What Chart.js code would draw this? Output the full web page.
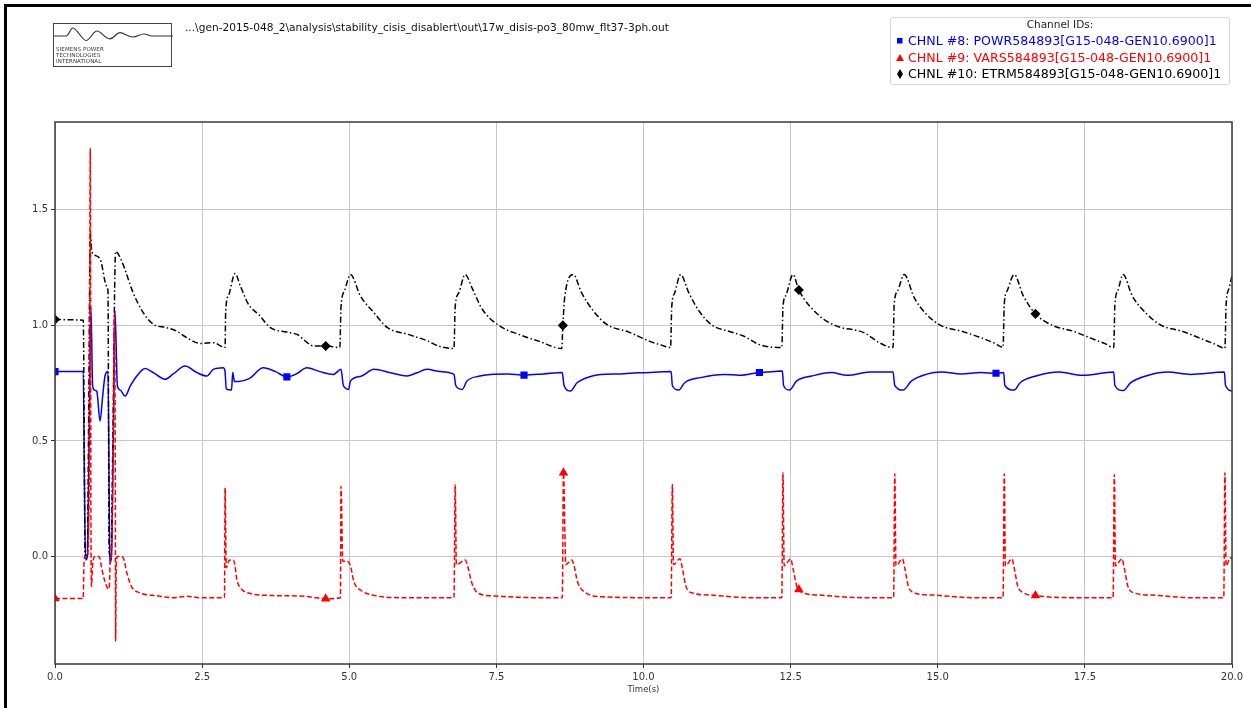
<!DOCTYPE html>
<html lang="en">
<head>
<meta charset="UTF-8">
<title>GEN-2015-048 stability run - channel plot</title>
<script src="https://cdn.jsdelivr.net/npm/chart.js"></script>
<style>
    html, body {
        margin: 0;
        padding: 0;
        background: #fff;
        overflow: hidden;
    }
    body {
        position: relative;
        width: 1251px;
        height: 708px;
        font-family: 'DejaVu Sans', sans-serif;
    }
    #frame {
        position: absolute;
        left: 4px;
        top: 4px;
        width: 1400px;
        height: 800px;
        border-left: 3px solid #000;
        border-top: 3px solid #000;
    }
    #chart {
        position: absolute;
        left: 0;
        top: 0;
    }
    #logo {
        position: absolute;
        left: 53px;
        top: 23px;
        width: 119px;
        height: 44px;
        border: 1.5px solid #444;
        box-sizing: border-box;
    }
    #logo svg {
        position: absolute;
        left: 0;
        top: 0;
    }
    #logo .name {
        position: absolute;
        left: 2px;
        top: 22px;
        font-size: 5.5px;
        line-height: 6px;
        color: #333;
        letter-spacing: 0.1px;
    }
    #runfile {
        position: absolute;
        left: 185px;
        top: 21px;
        font-size: 10.6px;
        color: #111;
        white-space: nowrap;
    }
    #channels {
        position: absolute;
        left: 890px;
        top: 17px;
        width: 338px;
        height: 66px;
        border: 1px solid #d4d4d4;
        border-radius: 3px;
        background: #fff;
    }
    #channels .title {
        position: absolute;
        left: 0;
        top: 0;
        width: 100%;
        text-align: center;
        font-size: 10.5px;
        line-height: 12px;
        color: #222;
    }
    #channels .row {
        position: absolute;
        left: 17px;
        font-size: 12.6px;
        line-height: 17px;
        white-space: nowrap;
    }
    #channels svg {
        position: absolute;
        left: 4px;
    }
</style>
</head>
<body>
    <div id="frame"></div>
    <canvas id="chart" width="1251" height="708"></canvas>

    <div id="logo">
        <svg width="119" height="44" viewBox="0 0 119 44">
            <path d="M0 12 L12 12 C15 12 16 4 19 4 C23 4 28 16.5 32 16.5 C36 16.5 39 7 43 7 C47 7 51 14.8 56 14.8 C60 14.8 62 8.7 66 8.7 C70 8.7 74 13 79 13 C83 13 86 10 90 10 C93 10 95 12 98 12 L119 12"
                  fill="none" stroke="#333" stroke-width="1.2"/>
        </svg>
        <div class="name">SIEMENS POWER<br>TECHNOLOGIES<br>INTERNATIONAL</div>
    </div>

    <div id="runfile">...\gen-2015-048_2\analysis\stability_cisis_disablert\out\17w_disis-po3_80mw_flt37-3ph.out</div>

    <div id="channels">
        <div class="title">Channel IDs:</div>
        <svg width="10" height="10" style="top:18px"><rect x="2" y="2" width="5.5" height="5.5" fill="#0000ff"/></svg>
        <div class="row" style="top:14px; color:#0000ff">CHNL #8: POWR584893[G15-048-GEN10.6900]1</div>
        <svg width="10" height="10" style="top:35px"><polygon points="5,1 9,8 1,8" fill="#ff0000"/></svg>
        <div class="row" style="top:31px; color:#ff0000">CHNL #9: VARS584893[G15-048-GEN10.6900]1</div>
        <svg width="10" height="12" style="top:50px"><polygon points="5,1 8,6 5,11 2,6" fill="#000"/></svg>
        <div class="row" style="top:47px; color:#000">CHNL #10: ETRM584893[G15-048-GEN10.6900]1</div>
    </div>

<script>
    // axis ticks
    const xTicks = [0, 2.5, 5, 7.5, 10, 12.5, 15, 17.5, 20];
    const yTicks = [0, 0.5, 1.0, 1.5];

    // CHNL #8 POWR (pu), [time s, value]
    const powrSeries = [
        [0, 0.80], [0.48, 0.80], [0.50, 0.30], [0.52, -0.015], [0.55, 0.0], [0.58, 0.50], [0.61, 1.083],
        [0.64, 0.738], [0.67, 0.72], [0.71, 0.715], [0.765, 0.586], [0.81, 0.694], [0.85, 0.781], [0.90, 0.80],
        [0.92, 0.30], [0.93, -0.03], [0.96, 0.0], [0.99, 0.50], [1.02, 1.062], [1.06, 0.738], [1.11, 0.72],
        [1.19, 0.694], [1.28, 0.738], [1.39, 0.781], [1.53, 0.813], [1.67, 0.796], [1.87, 0.767], [2.01, 0.79],
        [2.21, 0.824], [2.41, 0.796], [2.58, 0.781], [2.69, 0.81], [2.86, 0.817], [2.89, 0.80], [2.91, 0.725],
        [3.0, 0.72], [3.02, 0.796], [3.05, 0.757], [3.3, 0.77], [3.54, 0.817], [3.75, 0.80], [3.94, 0.777],
        [4.1, 0.79], [4.28, 0.817], [4.5, 0.80], [4.73, 0.788], [4.86, 0.81], [4.90, 0.74], [4.99, 0.723],
        [5.02, 0.759], [5.2, 0.78], [5.42, 0.81], [5.7, 0.795], [5.98, 0.781], [6.15, 0.795], [6.32, 0.81],
        [6.55, 0.80], [6.78, 0.788], [6.81, 0.74], [6.92, 0.723], [7.0, 0.759], [7.2, 0.78], [7.4, 0.788],
        [7.7, 0.79], [7.97, 0.785], [8.3, 0.79], [8.62, 0.796], [8.65, 0.74], [8.76, 0.716], [8.87, 0.752],
        [9.0, 0.77], [9.27, 0.788], [9.6, 0.79], [9.9, 0.795], [10.12, 0.796], [10.47, 0.80], [10.49, 0.74],
        [10.6, 0.72], [10.7, 0.752], [10.97, 0.774], [11.37, 0.788], [11.63, 0.784], [11.97, 0.796],
        [12.22, 0.80], [12.36, 0.803], [12.38, 0.74], [12.48, 0.72], [12.6, 0.759], [12.86, 0.781],
        [13.19, 0.796], [13.46, 0.784], [13.85, 0.798], [14.24, 0.798], [14.27, 0.74], [14.41, 0.72],
        [14.55, 0.759], [14.8, 0.788], [15.07, 0.798], [15.4, 0.79], [15.73, 0.796], [15.99, 0.793],
        [16.12, 0.796], [16.14, 0.74], [16.3, 0.72], [16.4, 0.752], [16.67, 0.781], [17.06, 0.798],
        [17.46, 0.784], [17.99, 0.798], [18.01, 0.74], [18.15, 0.718], [18.28, 0.752], [18.58, 0.784],
        [18.91, 0.798], [19.3, 0.788], [19.87, 0.798], [19.89, 0.74], [20.0, 0.716]
    ];

    // CHNL #9 VARS (pu)
    const varsSeries = [
        [0, -0.182], [0.48, -0.182], [0.49, -0.05], [0.51, 0.0], [0.55, 0.0], [0.58, 0.30], [0.60, 1.765],
        [0.61, 0.20], [0.62, -0.13], [0.64, -0.035], [0.68, 0.0], [0.75, 0.0], [0.80, -0.06], [0.84, -0.10],
        [0.89, -0.135], [0.92, -0.14], [0.94, -0.02], [0.96, 0.02], [0.99, 0.50], [1.01, 1.05], [1.025, 0.30],
        [1.03, -0.365], [1.04, -0.05], [1.06, 0.0], [1.11, 0.0], [1.16, -0.005], [1.22, -0.07], [1.30, -0.13],
        [1.44, -0.157], [1.73, -0.17], [2.01, -0.178], [2.24, -0.172], [2.47, -0.178], [2.88, -0.178],
        [2.89, 0.297], [2.91, -0.049], [2.96, -0.016], [3.03, -0.015], [3.06, -0.042], [3.09, -0.10],
        [3.15, -0.135], [3.32, -0.16], [3.6, -0.168], [4.17, -0.171], [4.34, -0.175], [4.60, -0.183],
        [4.85, -0.178], [4.86, 0.304], [4.89, -0.02], [4.97, -0.02], [5.02, -0.04], [5.08, -0.11],
        [5.19, -0.145], [5.42, -0.168], [5.87, -0.178], [6.78, -0.178], [6.80, 0.311], [6.82, -0.035],
        [6.97, -0.015], [7.01, -0.04], [7.09, -0.12], [7.2, -0.16], [7.49, -0.171], [8.17, -0.178],
        [8.62, -0.178], [8.64, 0.362], [8.68, -0.035], [8.78, -0.015], [8.82, -0.04], [8.88, -0.11],
        [9.02, -0.157], [9.3, -0.174], [10.12, -0.178], [10.47, -0.178], [10.49, 0.311], [10.51, -0.035],
        [10.62, -0.01], [10.66, -0.05], [10.72, -0.128], [10.82, -0.157], [11.15, -0.167], [11.8, -0.178],
        [12.35, -0.178], [12.37, 0.362], [12.39, -0.04], [12.5, -0.01], [12.54, -0.05], [12.6, -0.125],
        [12.64, -0.143], [12.7, -0.157], [13.0, -0.167], [13.7, -0.178], [14.25, -0.178], [14.27, 0.358],
        [14.29, -0.04], [14.4, -0.01], [14.44, -0.05], [14.5, -0.128], [14.6, -0.157], [14.93, -0.167],
        [15.6, -0.178], [16.11, -0.178], [16.13, 0.358], [16.15, -0.04], [16.26, -0.01], [16.3, -0.05],
        [16.36, -0.128], [16.46, -0.157], [16.66, -0.169], [17.4, -0.178], [17.98, -0.178], [18.0, 0.355],
        [18.02, -0.04], [18.13, -0.01], [18.17, -0.05], [18.23, -0.128], [18.33, -0.157], [18.66, -0.167],
        [19.3, -0.178], [19.86, -0.178], [19.88, 0.362], [19.90, -0.04], [19.97, -0.005], [20.0, -0.01]
    ];

    // CHNL #10 ETRM (pu)
    const etrmSeries = [
        [0, 1.025], [0.48, 1.022], [0.50, 0.40], [0.51, 0.0], [0.55, 0.01], [0.57, 0.55], [0.60, 1.40],
        [0.62, 1.33], [0.65, 1.31], [0.77, 1.285], [0.88, 1.17], [0.90, 1.15], [0.92, 0.02], [0.95, 0.0],
        [0.98, 0.45], [1.03, 1.32], [1.13, 1.28], [1.33, 1.14], [1.50, 1.055], [1.67, 1.005], [1.90, 0.99],
        [2.07, 0.975], [2.24, 0.947], [2.47, 0.922], [2.69, 0.925], [2.86, 0.906], [2.89, 0.905],
        [2.90, 1.06], [2.95, 1.13], [3.06, 1.225], [3.15, 1.17], [3.29, 1.09], [3.46, 1.047], [3.66, 0.99],
        [3.94, 0.971], [4.11, 0.961], [4.40, 0.911], [4.60, 0.911], [4.84, 0.904], [4.86, 1.08], [4.92, 1.15],
        [5.02, 1.22], [5.19, 1.127], [5.42, 1.055], [5.65, 0.99], [6.00, 0.961], [6.34, 0.932], [6.51, 0.911],
        [6.78, 0.90], [6.80, 1.08], [6.86, 1.14], [6.97, 1.22], [7.09, 1.16], [7.26, 1.07], [7.54, 1.0],
        [7.88, 0.961], [8.22, 0.932], [8.61, 0.90], [8.63, 1.00], [8.66, 1.12], [8.81, 1.22], [8.94, 1.145],
        [9.14, 1.065], [9.37, 1.005], [9.76, 0.97], [10.10, 0.932], [10.30, 0.915], [10.46, 0.904],
        [10.48, 1.08], [10.53, 1.14], [10.63, 1.22], [10.77, 1.141], [10.95, 1.06], [11.17, 1.0],
        [11.43, 0.976], [11.70, 0.954], [11.96, 0.918], [12.35, 0.904], [12.37, 1.08], [12.42, 1.13],
        [12.54, 1.22], [12.64, 1.153], [12.96, 1.048], [13.25, 1.0], [13.75, 0.968], [14.01, 0.925],
        [14.24, 0.904], [14.26, 1.09], [14.32, 1.15], [14.43, 1.22], [14.60, 1.12], [14.80, 1.05],
        [15.05, 1.0], [15.40, 0.975], [15.70, 0.95], [15.95, 0.925], [16.11, 0.905], [16.13, 1.09],
        [16.18, 1.15], [16.30, 1.22], [16.45, 1.13], [16.66, 1.05], [16.95, 1.0], [17.30, 0.975],
        [17.60, 0.945], [17.85, 0.92], [17.99, 0.904], [18.01, 1.09], [18.06, 1.15], [18.15, 1.22],
        [18.30, 1.13], [18.55, 1.05], [18.80, 1.0], [19.15, 0.975], [19.45, 0.945], [19.70, 0.92],
        [19.88, 0.902], [19.90, 1.09], [19.95, 1.16], [20.0, 1.215]
    ];

    // times that carry a channel marker
    const powrMarkers = [0, 3.94, 7.97, 11.97, 15.99];
    const varsMarkers = [0, 4.60, 8.64, 12.64, 16.66];
    const etrmMarkers = [0, 4.60, 8.63, 12.64, 16.66];

    function toPoints(series) {
        return series.map(p => ({ x: p[0], y: p[1] }));
    }

    function markerRadius(times, r) {
        return ctx => (ctx.raw && times.includes(ctx.raw.x)) ? r : 0;
    }

    // plot frame, drawn over the traces like the axes spines
    const plotFrame = {
        id: 'plotFrame',
        afterDraw(chart) {
            const { ctx, chartArea: a } = chart;
            ctx.save();
            ctx.lineWidth = 1.5;
            ctx.strokeStyle = '#3a3a3a';
            ctx.strokeRect(a.left, a.top, a.right - a.left, a.bottom - a.top);
            ctx.restore();
        }
    };

    const tickFont = { family: 'DejaVu Sans', size: 10 };

    new Chart(document.getElementById('chart').getContext('2d'), {
        type: 'line',
        data: {
            datasets: [
                {
                    label: 'CHNL #9: VARS584893[G15-048-GEN10.6900]1',
                    data: toPoints(varsSeries),
                    borderColor: '#ff0000',
                    backgroundColor: '#ff0000',
                    borderWidth: 1.5,
                    borderDash: [5, 2.5],
                    pointStyle: 'triangle',
                    pointRadius: markerRadius(varsMarkers, 4),
                    order: 0
                },
                {
                    label: 'CHNL #10: ETRM584893[G15-048-GEN10.6900]1',
                    data: toPoints(etrmSeries),
                    borderColor: '#000000',
                    backgroundColor: '#000000',
                    borderWidth: 1.5,
                    borderDash: [6, 2.5, 1.5, 2.5],
                    pointStyle: 'rectRot',
                    pointRadius: markerRadius(etrmMarkers, 4),
                    order: 1
                },
                {
                    label: 'CHNL #8: POWR584893[G15-048-GEN10.6900]1',
                    data: toPoints(powrSeries),
                    borderColor: '#0000ff',
                    backgroundColor: '#0000ff',
                    borderWidth: 1.5,
                    pointStyle: 'rect',
                    pointRadius: markerRadius(powrMarkers, 4),
                    order: 2
                }
            ]
        },
        options: {
            responsive: false,
            animation: false,
            devicePixelRatio: 1,
            cubicInterpolationMode: 'monotone',
            layout: {
                padding: { top: 122, right: 19, bottom: 0, left: 0 }
            },
            elements: {
                point: { borderWidth: 0, hoverRadius: 0 }
            },
            plugins: {
                legend: { display: false },
                tooltip: { enabled: false }
            },
            scales: {
                x: {
                    type: 'linear',
                    min: 0,
                    max: 20,
                    afterBuildTicks: axis => { axis.ticks = xTicks.map(v => ({ value: v })); },
                    afterFit: axis => { axis.height = 44; },
                    ticks: {
                        font: tickFont,
                        color: '#333',
                        padding: 3,
                        maxRotation: 0,
                        callback: v => v.toFixed(1)
                    },
                    grid: {
                        color: '#c8c8c8',
                        tickColor: '#333',
                        tickLength: 4
                    },
                    border: { display: false },
                    title: {
                        display: true,
                        text: 'Time(s)',
                        font: { family: 'DejaVu Sans', size: 8.5 },
                        color: '#333',
                        padding: { top: 1, bottom: 13 }
                    }
                },
                y: {
                    type: 'linear',
                    min: -0.465,
                    max: 1.880,
                    afterBuildTicks: axis => { axis.ticks = yTicks.map(v => ({ value: v })); },
                    afterFit: axis => { axis.width = 55; },
                    ticks: {
                        font: tickFont,
                        color: '#333',
                        padding: 3,
                        callback: v => v.toFixed(1)
                    },
                    grid: {
                        color: '#c8c8c8',
                        tickColor: '#333',
                        tickLength: 4
                    },
                    border: { display: false }
                }
            }
        },
        plugins: [plotFrame]
    });
</script>
</body>
</html>
